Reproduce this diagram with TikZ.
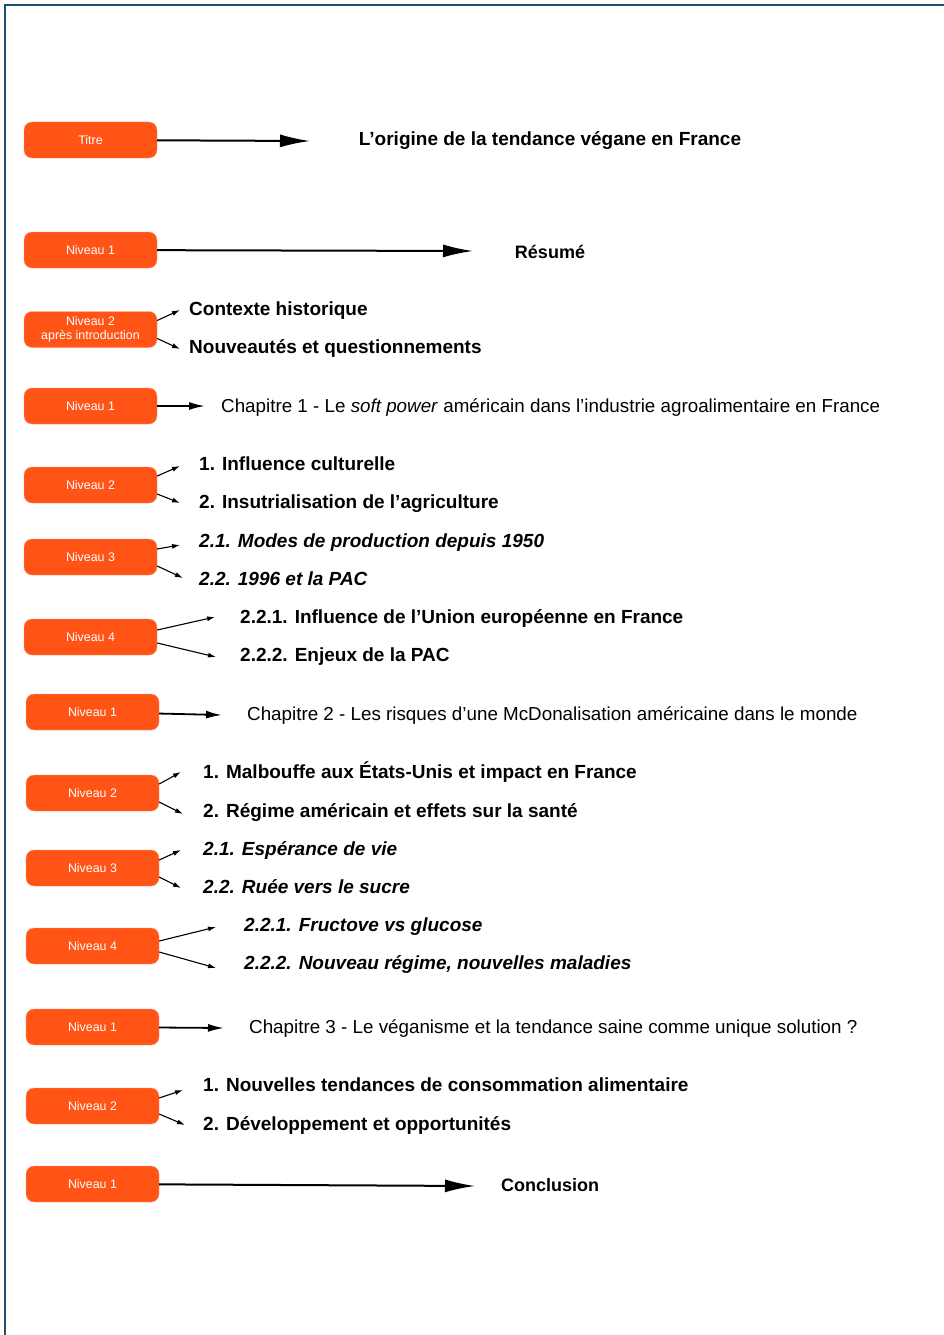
\documentclass[tikz,border=0pt]{standalone}
\usepackage{fontspec}
\setmainfont{Liberation Sans}
\usetikzlibrary{arrows.meta}

\definecolor{boxorange}{HTML}{FF5416}
\definecolor{frameblue}{HTML}{1F4E6E}

\tikzset{
	niveau/.style={draw=boxorange!60, fill=boxorange, rounded corners=8pt, minimum width=133pt, minimum height=36pt, inner sep=0pt, text=white, font=\fontsize{12.4}{14.5}\selectfont, align=center},
	item/.style={anchor=west, inner sep=0pt, yshift=-6pt, text height=0.45em, text depth=0.3em, font=\fontsize{19}{22}\selectfont\bfseries},
	itemit/.style={item, font=\fontsize{19}{22}\selectfont\bfseries\itshape},
	chap/.style={anchor=west, inner sep=0pt, yshift=-6pt, text height=0.45em, text depth=0.3em, font=\fontsize{18.8}{22}\selectfont},
	big/.style={line width=2pt, -{Latex[length=30pt,width=13pt]}},
	mid/.style={line width=1.8pt, -{Latex[length=16pt,width=8pt]}},
	fork/.style={line width=1.1pt, -{Latex[length=8pt,width=5pt]}}
}

\begin{document}
\begin{tikzpicture}[x=1pt, y=-1pt]
		\useasboundingbox (0,0) rectangle (944,1335);
		\draw[frameblue, line width=2.5pt] (5,1340) -- (5,5) -- (950,5);
		
		% titre et resume
		\node[niveau] (T) at (90.5,140) {Titre};
		\node[item, anchor=center] (titre) at (550,139) {L’origine de la tendance végane en France};
		\coordinate (Tend) at (310,141);
		\path [big] (T) edge (Tend);
		
		\node[niveau] (R) at (90.5,250) {Niveau 1};
		\node[item, anchor=center, font=\fontsize{18}{22}\selectfont\bfseries] (resume) at (550,252) {Résumé};
		\coordinate (Rend) at (473,251);
		\path [big] (R) edge (Rend);
		
		% introduction
		\node[niveau] (I) at (90.5,329.5) {Niveau 2\\après introduction};
		\node[item] (i1) at (189,309) {Contexte historique};
		\node[item] (i2) at (189,347) {Nouveautés et questionnements};
		\coordinate (ia) at (180,310);
		\coordinate (ib) at (180,349);
		\path [fork] ([yshift=9pt]I.east) edge (ia);
		\path [fork] ([yshift=-9pt]I.east) edge (ib);
		
		% chapitre 1
		\node[niveau] (C1) at (90.5,406) {Niveau 1};
		\node[chap] (c1) at (221,406) {Chapitre 1 - Le \textit{soft power} américain dans l’industrie agroalimentaire en France};
		\coordinate (c1end) at (205,406);
		\path [mid] (C1) edge (c1end);
		
		\node[niveau] (A2) at (90.5,485) {Niveau 2};
		\node[item] (a1) at (199,464) {1. Influence culturelle};
		\node[item] (a2) at (199,502) {2. Insutrialisation de l’agriculture};
		\coordinate (a1end) at (180,466);
		\coordinate (a2end) at (180,503);
		\path [fork] ([yshift=9pt]A2.east) edge (a1end);
		\path [fork] ([yshift=-9pt]A2.east) edge (a2end);
		
		\node[niveau] (A3) at (90.5,557) {Niveau 3};
		\node[itemit] (a21) at (199,541) {2.1. Modes de production depuis 1950};
		\node[itemit] (a22) at (199,579) {2.2. 1996 et la PAC};
		\coordinate (a21end) at (180,545);
		\coordinate (a22end) at (183,578);
		\path [fork] ([yshift=8pt]A3.east) edge (a21end);
		\path [fork] ([yshift=-9pt]A3.east) edge (a22end);
		
		\node[niveau] (A4) at (90.5,637) {Niveau 4};
		\node[item] (a221) at (240,617) {2.2.1. Influence de l’Union européenne en France};
		\node[item] (a222) at (240,655) {2.2.2. Enjeux de la PAC};
		\coordinate (a221end) at (215,617);
		\coordinate (a222end) at (216,657);
		\path [fork] ([yshift=7pt]A4.east) edge (a221end);
		\path [fork] ([yshift=-6pt]A4.east) edge (a222end);
		
		% chapitre 2
		\node[niveau] (C2) at (92.5,712) {Niveau 1};
		\node[chap] (c2) at (247,714) {Chapitre 2 - Les risques d’une McDonalisation américaine dans le monde};
		\coordinate (c2end) at (222,715);
		\path [mid] (C2) edge (c2end);
		
		\node[niveau] (B2) at (92.5,793) {Niveau 2};
		\node[item] (b1) at (203,772) {1. Malbouffe aux États-Unis et impact en France};
		\node[item] (b2) at (203,811) {2. Régime américain et effets sur la santé};
		\coordinate (b1end) at (181,772);
		\coordinate (b2end) at (183,814);
		\path [fork] ([yshift=9pt]B2.east) edge (b1end);
		\path [fork] ([yshift=-9pt]B2.east) edge (b2end);
		
		\node[niveau] (B3) at (92.5,868) {Niveau 3};
		\node[itemit] (b21) at (203,849) {2.1. Espérance de vie};
		\node[itemit] (b22) at (203,887) {2.2. Ruée vers le sucre};
		\coordinate (b21end) at (181,850);
		\coordinate (b22end) at (181,888);
		\path [fork] ([yshift=8pt]B3.east) edge (b21end);
		\path [fork] ([yshift=-9pt]B3.east) edge (b22end);
		
		\node[niveau] (B4) at (92.5,946) {Niveau 4};
		\node[itemit] (b221) at (244,925) {2.2.1. Fructove vs glucose};
		\node[itemit] (b222) at (244,963) {2.2.2. Nouveau régime, nouvelles maladies};
		\coordinate (b221end) at (216,927);
		\coordinate (b222end) at (216,968);
		\path [fork] ([yshift=5pt]B4.east) edge (b221end);
		\path [fork] ([yshift=-6pt]B4.east) edge (b222end);
		
		% chapitre 3
		\node[niveau] (C3) at (92.5,1027) {Niveau 1};
		\node[chap] (c3) at (249,1027) {Chapitre 3 - Le véganisme et la tendance saine comme unique solution ?};
		\coordinate (c3end) at (224,1028);
		\path [mid] (C3) edge (c3end);
		
		\node[niveau] (D2) at (92.5,1106) {Niveau 2};
		\node[item] (d1) at (203,1085) {1. Nouvelles tendances de consommation alimentaire};
		\node[item] (d2) at (203,1124) {2. Développement et opportunités};
		\coordinate (d1end) at (183,1090);
		\coordinate (d2end) at (185,1125);
		\path [fork] ([yshift=8pt]D2.east) edge (d1end);
		\path [fork] ([yshift=-8pt]D2.east) edge (d2end);
		
		% conclusion
		\node[niveau] (K) at (92.5,1184) {Niveau 1};
		\node[item, anchor=center, font=\fontsize{18}{22}\selectfont\bfseries] (concl) at (550,1185) {Conclusion};
		\coordinate (Kend) at (475,1186);
		\path [big] (K) edge (Kend);
		\end{tikzpicture}
\end{document}
